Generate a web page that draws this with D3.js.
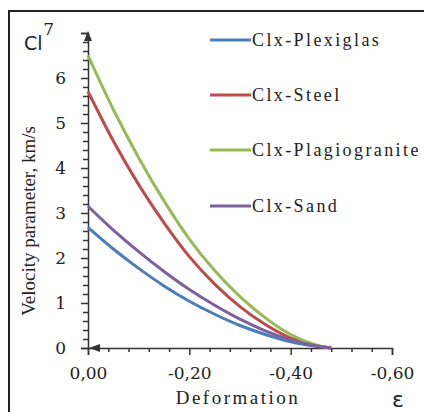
<!DOCTYPE html>
<html><head><meta charset="utf-8">
<script src="https://cdn.jsdelivr.net/npm/d3@7"></script>
<style>html,body{margin:0;padding:0;background:#fff;}svg{display:block;}
.serif{font-family:"Liberation Serif","Times New Roman",serif;}
.tick-serif{font-family:"DejaVu Serif","Liberation Serif",serif;}
</style>
</head><body>
<svg id="chart" width="424" height="412"></svg>
<script>
const deformation = [0, -0.05, -0.10, -0.15, -0.20, -0.25, -0.30, -0.35, -0.40, -0.45, -0.48];
const plexiglas     = [2.68, 2.2, 1.77, 1.38, 1.04, 0.75, 0.5, 0.3, 0.14, 0.04, 0];
const steel         = [5.7, 4.6, 3.63, 2.78, 2.03, 1.42, 0.92, 0.52, 0.22, 0.05, 0];
const plagiogranite = [6.5, 5.3, 4.23, 3.27, 2.42, 1.72, 1.14, 0.67, 0.3, 0.07, 0];
const sand          = [3.15, 2.62, 2.14, 1.7, 1.3, 0.95, 0.64, 0.38, 0.18, 0.05, 0];
const seriesNames = ["Clx-Plexiglas", "Clx-Steel", "Clx-Plagiogranite", "Clx-Sand"];
const seriesColors = ["#4a7ebb", "#be4b48", "#98b954", "#7d60a0"];
const xTickValues = [0, -0.2, -0.4, -0.6];
const xTickLabels = ["0,00", "-0,20", "-0,40", "-0,60"];
const yTickValues = [0, 1, 2, 3, 4, 5, 6, 7];
const yTickLabels = ["0", "1", "2", "3", "4", "5", "6", "7"];

const seriesData = [plexiglas, steel, plagiogranite, sand];
const svg = d3.select("#chart");

// frame
svg.append("rect").attr("x", 9).attr("y", 11).attr("width", 430).attr("height", 420)
  .attr("fill", "none").attr("stroke", "#222").attr("stroke-width", 2);

const x = d3.scaleLinear().domain([0, -0.6]).range([88, 392]);
const y = d3.scaleLinear().domain([0, 7]).range([348, 33]);
const axisColor = "#333";

// minor ticks
const xMinor = d3.range(0, 16).map(i => -i * 0.04).filter(v => !xTickValues.some(t => Math.abs(t - v) < 1e-9));
const yMinor = d3.range(0, 36).map(i => i * 0.2).filter(v => !yTickValues.some(t => Math.abs(t - v) < 1e-9));

const gxMinor = svg.append("g").attr("transform", `translate(0,${y(0)})`)
  .call(d3.axisBottom(x).tickValues(xMinor).tickSize(4).tickFormat(""));
const gyMinor = svg.append("g").attr("transform", `translate(${x(0)},0)`)
  .call(d3.axisLeft(y).tickValues(yMinor).tickSize(5).tickFormat(""));
[gxMinor, gyMinor].forEach(g => { g.select(".domain").remove(); g.selectAll("line").attr("stroke", axisColor).attr("stroke-width", 1.5); });

const gx = svg.append("g").attr("transform", `translate(0,${y(0)})`)
  .call(d3.axisBottom(x).tickValues(xTickValues).tickSize(7).tickPadding(12)
    .tickFormat((d, i) => xTickLabels[i]));
const gy = svg.append("g").attr("transform", `translate(${x(0)},0)`)
  .call(d3.axisLeft(y).tickValues(yTickValues).tickSize(7).tickPadding(15)
    .tickFormat((d, i) => yTickLabels[i]));
[gx, gy].forEach(g => {
  g.attr("font-family", null).attr("font-size", null);
  g.select(".domain").attr("stroke", axisColor).attr("stroke-width", 1.5);
  g.selectAll("line").attr("stroke", axisColor).attr("stroke-width", 1.5);
  g.selectAll("text").attr("fill", "#222").attr("class", "tick-serif").attr("font-size", 17);
});
// tick label 7 shifted left (next to "Cl")
gy.selectAll(".tick").filter(d => d === 7).select("text").attr("x", -34).attr("dy", "0.1em");

// arrows
svg.append("path").attr("d", `M${x(0)},${y(7)-2} l-4,10 l8,0 z`).attr("fill", axisColor);
svg.append("path").attr("d", `M${x(0)+1},${y(0)} l11,-4 l0,8 z`).attr("fill", axisColor);

// lines
const line = d3.line().x((d, i) => x(deformation[i])).y(d => y(d)).curve(d3.curveMonotoneX);
seriesData.forEach((s, k) => {
  svg.append("path").datum(s).attr("d", line).attr("fill", "none")
    .attr("stroke", seriesColors[k]).attr("stroke-width", 3);
});

// legend
const legendY = [40, 95, 150, 206];
seriesNames.forEach((n, k) => {
  svg.append("line").attr("x1", 210).attr("x2", 251).attr("y1", legendY[k]).attr("y2", legendY[k])
    .attr("stroke", seriesColors[k]).attr("stroke-width", 3);
  svg.append("text").attr("x", 252).attr("y", legendY[k] + 6).text(n)
    .attr("class", "serif").attr("font-size", 18)
    .attr("letter-spacing", 2.4).attr("fill", "#222");
});

// titles
svg.append("text").attr("transform", "translate(35,221) rotate(-90)").attr("text-anchor", "middle")
  .text("Velocity parameter, km/s").attr("class", "serif").attr("font-size", 19).attr("fill", "#222");
svg.append("text").attr("x", 238).attr("y", 404).attr("text-anchor", "middle").text("Deformation")
  .attr("class", "serif").attr("font-size", 19).attr("letter-spacing", 2.5).attr("fill", "#222");
svg.append("text").attr("x", 24).attr("y", 50).text("Cl")
  .attr("font-family", "DejaVu Sans, sans-serif").attr("font-size", 19).attr("fill", "#222");
svg.append("text").attr("x", 392).attr("y", 407).text("ε")
  .attr("font-family", "DejaVu Sans, sans-serif").attr("font-size", 22).attr("fill", "#222");
</script>
</body></html>
